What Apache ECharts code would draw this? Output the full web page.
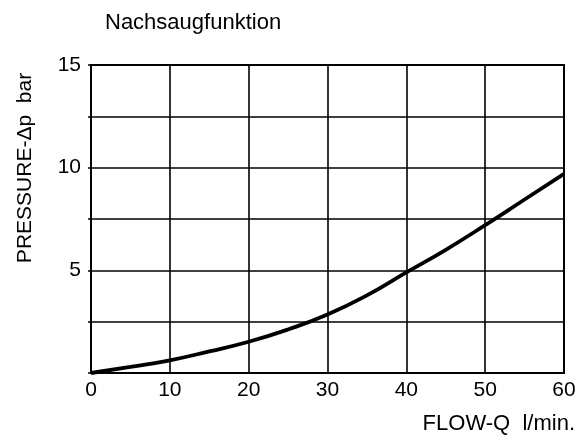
<!DOCTYPE html>
<html>
<head>
<meta charset="utf-8">
<script src="https://cdn.jsdelivr.net/npm/echarts@6/dist/echarts.min.js"></script>
<style>html,body{margin:0;padding:0;background:#fff}#c{width:579px;height:444px}</style>
</head>
<body>
<div id="c"></div>
<script>
var flow = [0, 5, 10, 15, 20, 25, 30, 35, 40, 45, 50, 55, 60];
var pressure = [0, 0.3, 0.62, 1.05, 1.52, 2.12, 2.85, 3.78, 4.9, 6.0, 7.2, 8.45, 9.7];
var yTickLabels = [5, 10, 15];
var titleText = 'Nachsaugfunktion';
var xName = 'FLOW-Q  l/min.';
var yName = 'PRESSURE-\u0394p  bar';

var font = 'Liberation Sans, Arial, sans-serif';
var chart = echarts.init(document.getElementById('c'), null, {renderer: 'canvas'});
chart.setOption({
  animation: false,
  backgroundColor: '#fff',
  title: {
    text: titleText, left: 100, top: 7,
    textStyle: {fontFamily: font, fontSize: 22, fontWeight: 'normal', color: '#000'}
  },
  grid: {left: 91, right: 15, top: 65, bottom: 71, show: true, borderColor: '#000', borderWidth: 2},
  xAxis: {
    type: 'value', min: 0, max: 60, interval: 10,
    axisLine: {show: true, lineStyle: {color: '#000', width: 2}},
    axisTick: {show: false},
    splitLine: {show: true, lineStyle: {color: '#000', width: 1.6}},
    axisLabel: {fontFamily: font, fontSize: 21, color: '#000', margin: 7}
  },
  yAxis: {
    type: 'value', min: 0, max: 15, interval: 2.5,
    axisLine: {show: true, lineStyle: {color: '#000', width: 2}},
    axisTick: {show: true, length: 3, lineStyle: {color: '#000', width: 1.5}},
    splitLine: {show: true, lineStyle: {color: '#000', width: 1.6}},
    axisLabel: {
      fontFamily: font, fontSize: 21, color: '#000', margin: 10,
      formatter: function (v) { return yTickLabels.indexOf(v) >= 0 ? String(v) : ''; }
    }
  },
  graphic: [
    {type: 'text', rotation: Math.PI / 2, x: 25, y: 168,
     style: {text: yName, fontFamily: font, fontSize: 21, fill: '#000', textAlign: 'center', textVerticalAlign: 'middle'}},
    {type: 'text', x: 575, y: 424,
     style: {text: xName, fontFamily: font, fontSize: 22, fill: '#000', textAlign: 'right', textVerticalAlign: 'middle'}}
  ],
  series: [{
    type: 'line', smooth: 0.5, symbol: 'none',
    data: flow.map(function (f, i) { return [f, pressure[i]]; }),
    lineStyle: {color: '#000', width: 3.8}
  }]
});
</script>
</body>
</html>
